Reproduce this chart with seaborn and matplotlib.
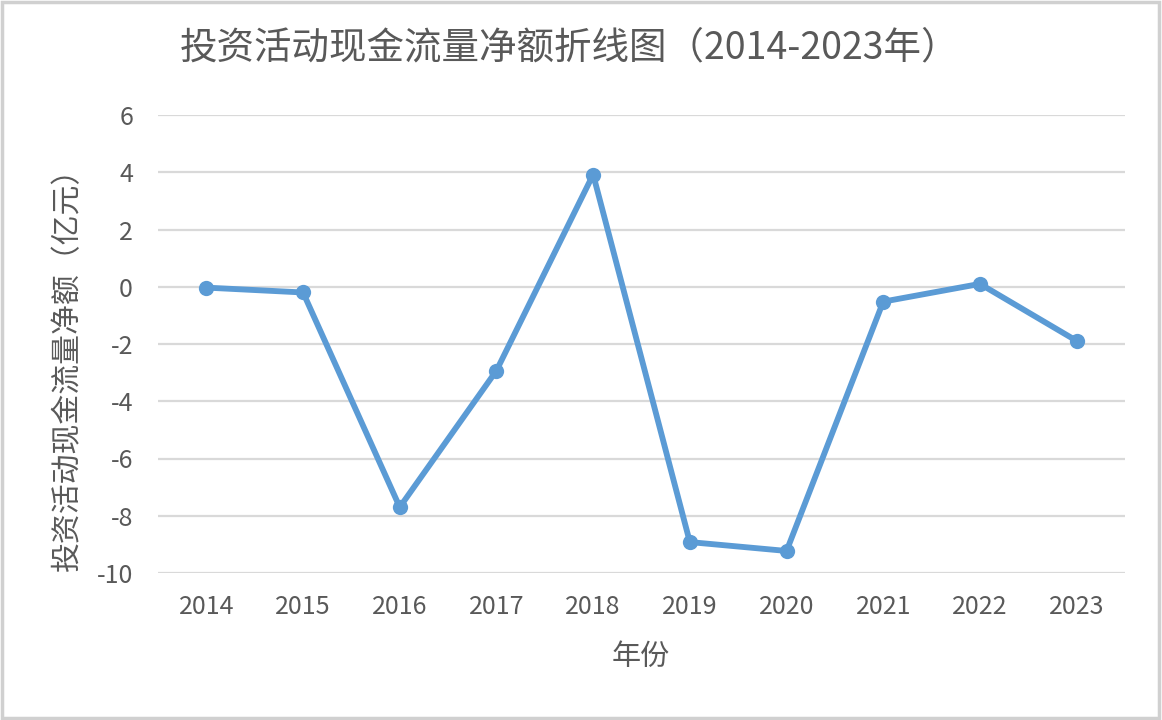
import matplotlib
matplotlib.use("Agg")
import matplotlib.pyplot as plt
import seaborn as sns
import pandas as pd

# data
years = ["2014", "2015", "2016", "2017", "2018", "2019", "2020", "2021", "2022", "2023"]
net_flow = [-0.03, -0.2, -7.7, -2.93, 3.92, -8.92, -9.23, -0.52, 0.1, -1.89]

df = pd.DataFrame({"年份": years, "净额": net_flow})

sns.set_theme(style="white")
plt.rcParams['font.family'] = ['Noto Sans CJK SC', 'DejaVu Sans']
plt.rcParams['axes.unicode_minus'] = False

text_col = "#595959"
fig = plt.figure(figsize=(11.62, 7.2), dpi=100)
ax = fig.add_axes([158 / 1162, 1 - 573 / 720, (1125 - 158) / 1162, (573 - 115) / 720])

x = list(range(len(years)))
sns.lineplot(x=x, y=df["净额"], ax=ax, color="#5B9BD5", linewidth=4.2,
             marker="o", markersize=11, markeredgewidth=0, zorder=3)

ax.set_xlim(-0.5, len(years) - 0.5)
ax.set_ylim(-10, 6)
ax.set_yticks(range(-10, 7, 2))
ax.set_xticks(x)
ax.set_xticklabels(years)
ax.yaxis.grid(True, color="#D9D9D9", linewidth=1.6)
ax.xaxis.grid(False)
for s in ax.spines.values():
    s.set_visible(False)
ax.tick_params(axis="both", length=0, labelsize=18, labelcolor=text_col)
ax.tick_params(axis="y", pad=18)
ax.tick_params(axis="x", pad=15)
ax.set_xlabel("")
ax.set_ylabel("")

fig.text(569 / 1162, 1 - 48 / 720, "投资活动现金流量净额折线图（2014-2023年）",
         ha="center", va="center", fontsize=27, color=text_col)
fig.text(641 / 1162, 1 - 657 / 720, "年份", ha="center", va="center",
         fontsize=21, color=text_col)
fig.text(68 / 1162, 1 - 362 / 720, "投资活动现金流量净额（亿元）", ha="center", va="center",
         rotation=90, fontsize=21.5, color=text_col)

# light frame around the chart area
fig.patches.append(plt.Rectangle((0.002, 0.003), 0.995, 0.994, transform=fig.transFigure,
                                 fill=False, edgecolor="#D0D0D0", linewidth=2.5))

plt.savefig("out.png", dpi=100)
